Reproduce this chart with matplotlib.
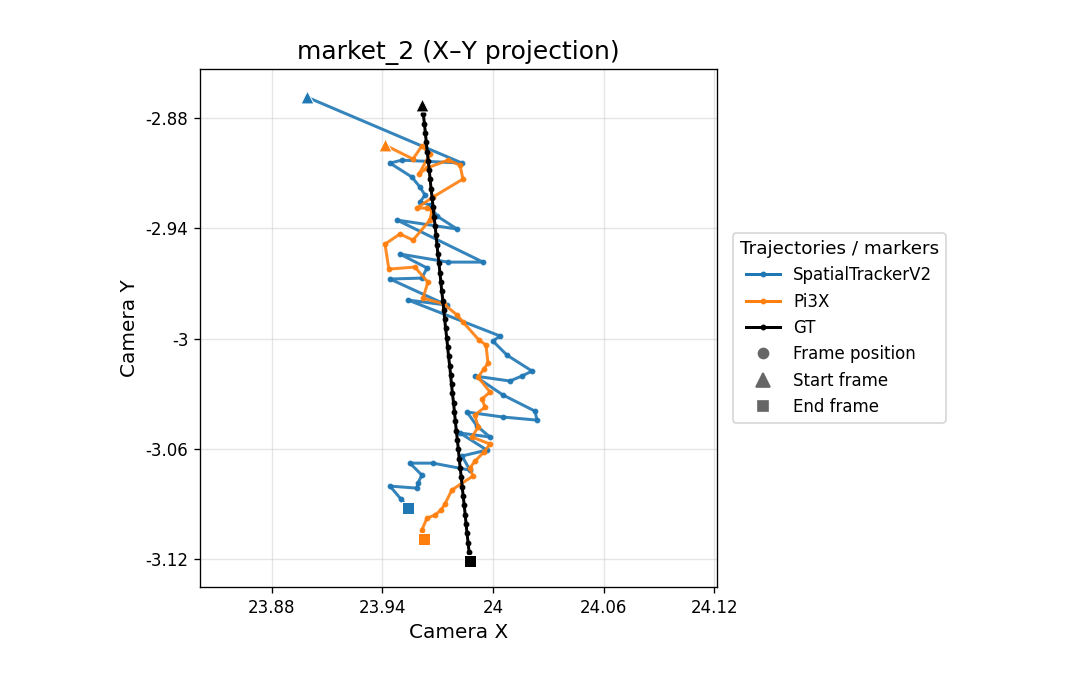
import matplotlib
matplotlib.use("Agg")
import matplotlib.pyplot as plt
from matplotlib.lines import Line2D
from matplotlib.ticker import FuncFormatter

# trajectories projected on X-Y
st_x = [23.8990, 23.9832, 23.9506, 23.9441, 23.9560, 23.9604, 23.9631, 23.9604,
        23.9658, 23.9696, 23.9805, 23.9479, 23.9946, 23.9756, 23.9495, 23.9642,
        23.9614, 23.9441, 23.9750, 23.9538, 24.0038, 24.0000, 24.0076, 24.0212,
        24.0157, 24.0092, 23.9902, 24.0054, 24.0228, 24.0239, 24.0054, 23.9859,
        23.9913, 23.9984, 23.9821, 23.9967, 23.9832, 23.9875, 23.9674, 23.9549,
        23.9614, 23.9593, 23.9587, 23.9441, 23.9500, 23.9538]
st_y = [-2.8686, -2.9045, -2.9029, -2.9045, -2.9121, -2.9176, -2.9219, -2.9257,
        -2.9273, -2.9333, -2.9404, -2.9355, -2.9584, -2.9584, -2.9540, -2.9616,
        -2.9671, -2.9676, -2.9818, -2.9790, -2.9986, -3.0014, -3.0090, -3.0177,
        -3.0204, -3.0231, -3.0204, -3.0307, -3.0395, -3.0444, -3.0427, -3.0400,
        -3.0476, -3.0536, -3.0514, -3.0607, -3.0639, -3.0716, -3.0678, -3.0678,
        -3.0743, -3.0786, -3.0814, -3.0803, -3.0873, -3.0922]

pi_x = [23.9414, 23.9566, 23.9614, 23.9658, 23.9598, 23.9642, 23.9756, 23.9821,
        23.9837, 23.9674, 23.9587, 23.9642, 23.9669, 23.9658, 23.9566, 23.9495,
        23.9414, 23.9435, 23.9576, 23.9647, 23.9620, 23.9734, 23.9805, 23.9837,
        23.9924, 23.9962, 23.9973, 23.9951, 23.9919, 23.9984, 23.9940, 23.9957,
        23.9902, 23.9919, 23.9886, 23.9984, 23.9951, 23.9902, 23.9875, 23.9891,
        23.9777, 23.9739, 23.9718, 23.9685, 23.9642, 23.9614, 23.9625]
pi_y = [-2.8947, -2.9023, -2.8952, -2.8996, -2.9105, -2.9072, -2.9029, -2.9056,
        -2.9132, -2.9230, -2.9290, -2.9290, -2.9301, -2.9355, -2.9464, -2.9431,
        -2.9486, -2.9622, -2.9611, -2.9693, -2.9780, -2.9812, -2.9872, -2.9910,
        -3.0008, -3.0035, -3.0133, -3.0166, -3.0210, -3.0291, -3.0329, -3.0373,
        -3.0416, -3.0482, -3.0536, -3.0574, -3.0618, -3.0667, -3.0705, -3.0748,
        -3.0824, -3.0901, -3.0933, -3.0961, -3.0977, -3.1042, -3.1091]

gt_x = [23.9617, 23.9622, 23.9628, 23.9633, 23.9638, 23.9643, 23.9649, 23.9654,
        23.9659, 23.9664, 23.9670, 23.9675, 23.9680, 23.9686, 23.9691, 23.9696,
        23.9701, 23.9707, 23.9712, 23.9717, 23.9722, 23.9728, 23.9733, 23.9738,
        23.9743, 23.9749, 23.9754, 23.9759, 23.9765, 23.9770, 23.9775, 23.9780,
        23.9786, 23.9791, 23.9796, 23.9801, 23.9807, 23.9812, 23.9817, 23.9822,
        23.9828, 23.9833, 23.9838, 23.9844, 23.9849, 23.9854, 23.9859, 23.9865,
        23.9870, 23.9875]
gt_y = [-2.8729, -2.8780, -2.8830, -2.8881, -2.8932, -2.8982, -2.9033, -2.9084,
        -2.9134, -2.9185, -2.9236, -2.9286, -2.9337, -2.9387, -2.9438, -2.9489,
        -2.9539, -2.9590, -2.9641, -2.9691, -2.9742, -2.9793, -2.9843, -2.9894,
        -2.9945, -2.9995, -3.0046, -3.0097, -3.0147, -3.0198, -3.0249, -3.0299,
        -3.0350, -3.0400, -3.0451, -3.0502, -3.0552, -3.0603, -3.0654, -3.0704,
        -3.0755, -3.0806, -3.0856, -3.0907, -3.0958, -3.1008, -3.1059, -3.1110,
        -3.1160, -3.1211]

series = [
    ("SpatialTrackerV2", st_x, st_y, "#1f77b4", 0.9),
    ("Pi3X", pi_x, pi_y, "#ff7f0e", 0.9),
    ("GT", gt_x, gt_y, "black", 1.0),
]

x_ticks = [23.88, 23.94, 24.00, 24.06, 24.12]
y_ticks = [-2.88, -2.94, -3.00, -3.06, -3.12]

fig = plt.figure(figsize=(9, 5.75), dpi=120)
ax = fig.add_axes([0.1852, 0.1493, 0.4787, 0.7507])

handles = []
for name, xs, ys, col, a in series:
    ax.plot(xs, ys, "-o", color=col, lw=1.8, ms=2.5, alpha=a, zorder=2)
    ax.scatter(xs[0], ys[0], marker="^", s=60, color=col, edgecolor="white",
               linewidth=0.6, zorder=4)
    ax.scatter(xs[-1], ys[-1], marker="s", s=48, color=col, edgecolor="white",
               linewidth=0.6, zorder=4)
    handles.append(Line2D([], [], color=col, lw=1.8, marker="o", ms=2.5, label=name))

gray = "#666666"
handles.append(Line2D([], [], ls="none", marker="o", ms=6, color=gray, label="Frame position"))
handles.append(Line2D([], [], ls="none", marker="^", ms=8, color=gray, label="Start frame"))
handles.append(Line2D([], [], ls="none", marker="s", ms=6, color=gray, label="End frame"))

ax.set_xlim(23.841, 24.1216)
ax.set_ylim(-3.1352, -2.8533)
ax.set_xticks(x_ticks)
ax.set_yticks(y_ticks)
fmt = FuncFormatter(lambda v, p: "%g" % round(v, 4))
ax.xaxis.set_major_formatter(fmt)
ax.yaxis.set_major_formatter(fmt)
ax.grid(True, color="#cccccc", alpha=0.5, lw=0.8)

ax.set_title("market_2 (X\u2013Y projection)", fontsize=15)
ax.set_xlabel("Camera X", fontsize=12)
ax.set_ylabel("Camera Y", fontsize=12)

ax.legend(handles=handles, title="Trajectories / markers", loc="center left",
          bbox_to_anchor=(1.015, 0.5), fontsize=10, title_fontsize=11)

fig.savefig("out.png", dpi=120)
plt.close()
